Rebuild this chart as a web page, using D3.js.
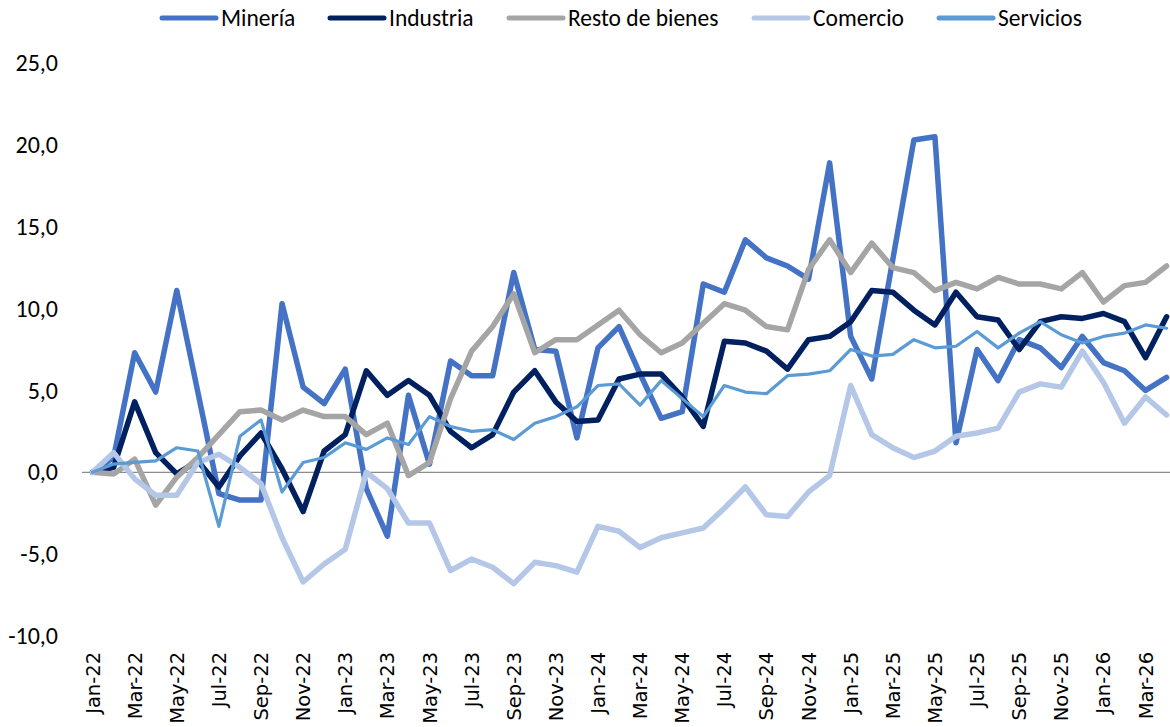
<!DOCTYPE html>
<html>
<head>
<meta charset="utf-8">
<script src="https://cdn.jsdelivr.net/npm/d3@7"></script>
<style>
  html, body { margin: 0; padding: 0; background: #fff; }
  svg { display: block; }
</style>
</head>
<body>
<svg id="chart" width="1170" height="727"></svg>
<script>
const months = ["Jan-22","Feb-22","Mar-22","Apr-22","May-22","Jun-22","Jul-22","Aug-22","Sep-22","Oct-22","Nov-22","Dec-22",
  "Jan-23","Feb-23","Mar-23","Apr-23","May-23","Jun-23","Jul-23","Aug-23","Sep-23","Oct-23","Nov-23","Dec-23",
  "Jan-24","Feb-24","Mar-24","Apr-24","May-24","Jun-24","Jul-24","Aug-24","Sep-24","Oct-24","Nov-24","Dec-24",
  "Jan-25","Feb-25","Mar-25","Apr-25","May-25","Jun-25","Jul-25","Aug-25","Sep-25","Oct-25","Nov-25","Dec-25",
  "Jan-26","Feb-26","Mar-26","Apr-26"];

const seriesNames = ["Minería","Industria","Resto de bienes","Comercio","Servicios"];

const mineria = [0, 0.9, 7.3, 4.9, 11.1, 4.9, -1.3, -1.7, -1.7, 10.3,
  5.2, 4.2, 6.3, -1.0, -3.9, 4.7, 0.5, 6.8, 5.9, 5.9,
  12.2, 7.5, 7.4, 2.1, 7.6, 8.9, 6.0, 3.3, 3.7, 11.5,
  11.0, 14.2, 13.1, 12.6, 11.8, 18.9, 8.3, 5.7, 13.0, 20.3,
  20.5, 1.8, 7.5, 5.6, 8.1, 7.6, 6.4, 8.3, 6.7, 6.2,
  5.0, 5.8];
const industria = [0, 0.3, 4.3, 1.2, -0.1, 0.7, -0.9, 1.0, 2.4, 0.2,
  -2.4, 1.3, 2.3, 6.2, 4.7, 5.6, 4.7, 2.5, 1.5, 2.3,
  4.9, 6.2, 4.3, 3.1, 3.2, 5.7, 6.0, 6.0, 4.6, 2.8,
  8.0, 7.9, 7.4, 6.3, 8.1, 8.3, 9.2, 11.1, 11.0, 9.9,
  9.0, 11.0, 9.5, 9.3, 7.5, 9.2, 9.5, 9.4, 9.7, 9.2,
  7.0, 9.5];
const resto = [0, -0.1, 0.8, -2.0, -0.3, 0.9, 2.3, 3.7, 3.8, 3.2,
  3.8, 3.4, 3.4, 2.3, 3.0, -0.2, 0.6, 4.5, 7.4, 8.9,
  10.9, 7.3, 8.1, 8.1, 9.0, 9.9, 8.4, 7.3, 7.9, 9.1,
  10.3, 9.9, 8.9, 8.7, 12.4, 14.2, 12.2, 14.0, 12.5, 12.2,
  11.1, 11.6, 11.2, 11.9, 11.5, 11.5, 11.2, 12.2, 10.4, 11.4,
  11.6, 12.6];
const comercio = [0, 1.2, -0.4, -1.4, -1.4, 0.6, 1.1, 0.3, -0.7, -4.0,
  -6.7, -5.6, -4.7, 0.0, -1.0, -3.1, -3.1, -6.0, -5.3, -5.8,
  -6.8, -5.5, -5.7, -6.1, -3.3, -3.6, -4.6, -4.0, -3.7, -3.4,
  -2.2, -0.9, -2.6, -2.7, -1.2, -0.2, 5.3, 2.3, 1.5, 0.9,
  1.3, 2.2, 2.4, 2.7, 4.9, 5.4, 5.2, 7.4, 5.5, 3.0,
  4.6, 3.5];
const servicios = [0, 0.5, 0.6, 0.7, 1.5, 1.3, -3.3, 2.2, 3.2, -1.2,
  0.6, 0.9, 1.8, 1.4, 2.1, 1.7, 3.4, 2.8, 2.5, 2.6,
  2.0, 3.0, 3.4, 4.0, 5.3, 5.4, 4.1, 5.6, 4.5, 3.4,
  5.3, 4.9, 4.8, 5.9, 6.0, 6.2, 7.5, 7.1, 7.2, 8.1,
  7.6, 7.7, 8.6, 7.6, 8.5, 9.2, 8.4, 7.9, 8.3, 8.5,
  9.0, 8.8];

const yTicks = [-10, -5, 0, 5, 10, 15, 20, 25];
const xTickLabels = months.filter((m, i) => i % 2 === 0);

const colors = ["#4472C4", "#002060", "#A5A5A5", "#B4C7E7", "#5B9BD5"];
const widths = [5.5, 5.5, 5.5, 5.5, 3.2];
const seriesValues = [mineria, industria, resto, comercio, servicios];

const svg = d3.select("#chart");
const x = d3.scaleBand().domain(months).range([82, 82 + 52 * 21.06]);
const xc = m => x(m) + x.bandwidth() / 2;
const y = d3.scaleLinear().domain([-10, 25]).range([636, 63]);

const labelFont = "Carlito, Calibri, 'Liberation Sans Narrow', sans-serif";

// Y axis labels
const yAxis = d3.axisLeft(y).tickValues(yTicks).tickSize(0).tickPadding(0)
  .tickFormat(d => d3.format(".1f")(d).replace(".", ",").replace("−", "-"));
const gy = svg.append("g").attr("transform", "translate(58,0)").call(yAxis);
gy.select(".domain").remove();
gy.selectAll("text").attr("font-family", labelFont)
  .attr("font-size", 24).attr("fill", "#000");

// zero line
svg.append("line").attr("x1", 82).attr("x2", 1170).attr("y1", y(0)).attr("y2", y(0))
  .attr("stroke", "#8C8C8C").attr("stroke-width", 1.3);

// X axis labels
const xAxis = d3.axisBottom(x).tickValues(xTickLabels).tickSize(0).tickPadding(0);
const gx = svg.append("g").attr("transform", "translate(0,650)").call(xAxis);
gx.select(".domain").remove();
gx.selectAll("text")
  .attr("font-family", "'DejaVu Sans', sans-serif").attr("font-size", 19.5).attr("fill", "#000")
  .attr("transform", "rotate(-90)").attr("text-anchor", "end")
  .attr("x", 0).attr("y", 0).attr("dy", "0.36em").attr("dx", "-0.1em");

// Lines
const line = d3.line().x((d, i) => xc(months[i])).y(d => y(d));
seriesValues.forEach((vals, k) => {
  svg.append("path").datum(vals)
    .attr("d", line).attr("fill", "none")
    .attr("stroke", colors[k]).attr("stroke-width", widths[k])
    .attr("stroke-linejoin", "round").attr("stroke-linecap", "round");
});

// Legend
const legendX = [160, 328, 507, 752, 937];
const lg = svg.append("g");
seriesNames.forEach((name, k) => {
  const g = lg.append("g").attr("transform", `translate(${legendX[k]},18)`);
  g.append("line").attr("x1", 2).attr("x2", 56).attr("y1", 0).attr("y2", 0)
    .attr("stroke", colors[k]).attr("stroke-width", 5).attr("stroke-linecap", "round");
  g.append("text").attr("x", 61).attr("y", 0).attr("dy", "0.35em")
    .attr("font-family", labelFont)
    .attr("font-size", 23.5).attr("fill", "#000").text(name);
});
</script>
</body>
</html>
